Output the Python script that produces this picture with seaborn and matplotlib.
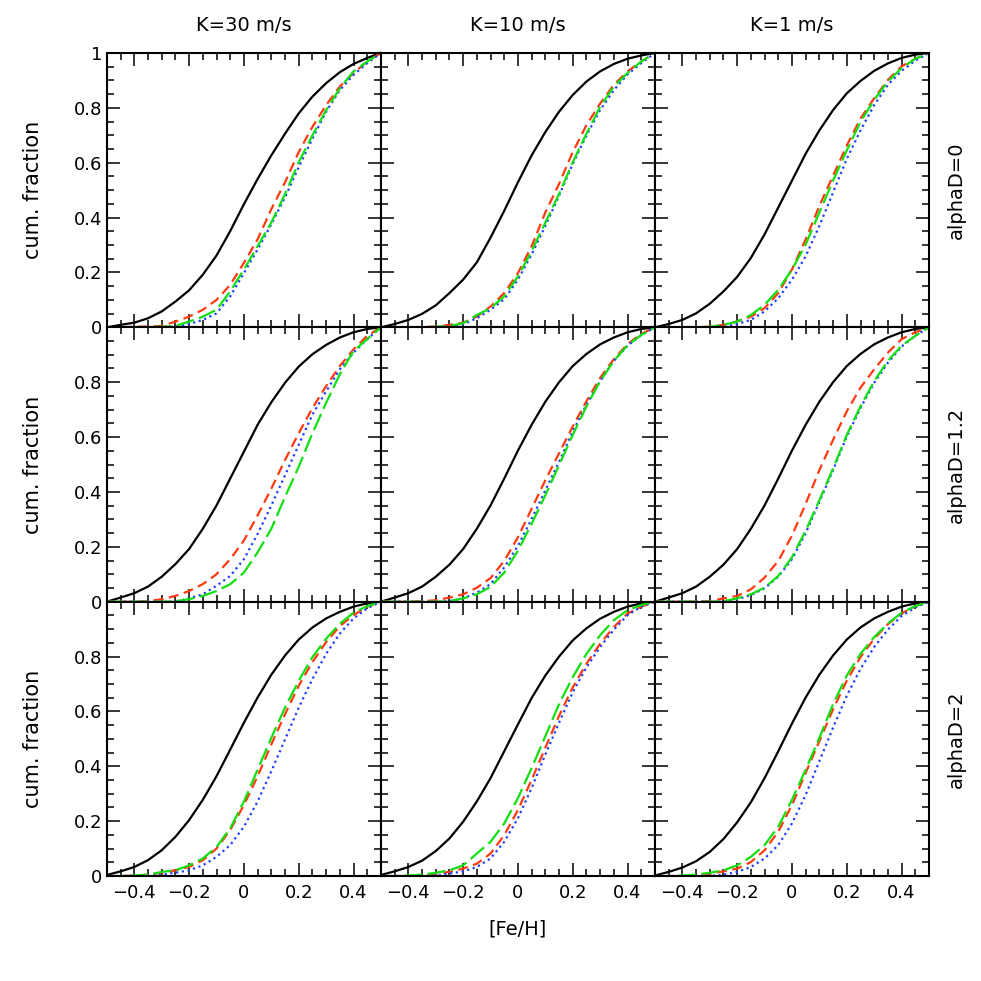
import numpy as np
import matplotlib
matplotlib.use("Agg")
import matplotlib.pyplot as plt
from matplotlib.ticker import MultipleLocator, FixedLocator
import seaborn as sns

# [Fe/H] grid the cumulative fractions were read at
feh = [-0.50, -0.45, -0.40, -0.35, -0.30, -0.25, -0.20, -0.15, -0.10, -0.05, 0.00,
       0.05, 0.10, 0.15, 0.20, 0.25, 0.30, 0.35, 0.40, 0.45, 0.50]

k_labels = ["K=30 m/s", "K=10 m/s", "K=1 m/s"]
alpha_labels = ["alphaD=0", "alphaD=1.2", "alphaD=2"]
xtick_vals = [-0.4, -0.2, 0, 0.2, 0.4]
xtick_text = ['\u22120.4', '\u22120.2', '0', '0.2', '0.4']
ytick_vals = [0, 0.2, 0.4, 0.6, 0.8, 1.0]

# ---- alphaD = 0 ----
a0_k30_black = [0, 0.009, 0.017, 0.033, 0.058, 0.094, 0.135, 0.192, 0.262, 0.351, 0.449, 0.541, 0.627, 0.706, 0.780, 0.841, 0.890, 0.930, 0.960, 0.982, 1.0]
a0_k30_red = [0, 0, 0.002, 0.003, 0.005, 0.021, 0.039, 0.064, 0.100, 0.155, 0.235, 0.321, 0.431, 0.529, 0.639, 0.731, 0.810, 0.878, 0.927, 0.969, 1.0]
a0_k30_blue = [0, 0, 0, 0, 0.001, 0.002, 0.012, 0.027, 0.051, 0.113, 0.198, 0.284, 0.376, 0.474, 0.584, 0.688, 0.786, 0.865, 0.920, 0.963, 1.0]
a0_k30_green = [0, 0, 0, 0.001, 0.002, 0.005, 0.021, 0.039, 0.064, 0.131, 0.211, 0.296, 0.382, 0.486, 0.602, 0.700, 0.792, 0.871, 0.933, 0.969, 1.0]

a0_k10_black = [0, 0.012, 0.027, 0.049, 0.080, 0.125, 0.174, 0.237, 0.327, 0.425, 0.529, 0.627, 0.712, 0.786, 0.847, 0.896, 0.933, 0.960, 0.979, 0.991, 1.0]
a0_k10_red = [0, 0, 0, 0.001, 0.003, 0.009, 0.017, 0.039, 0.076, 0.125, 0.198, 0.296, 0.419, 0.523, 0.639, 0.737, 0.816, 0.884, 0.933, 0.969, 1.0]
a0_k10_blue = [0, 0, 0, 0, 0.001, 0.002, 0.012, 0.033, 0.064, 0.103, 0.174, 0.266, 0.370, 0.480, 0.596, 0.700, 0.792, 0.865, 0.922, 0.963, 1.0]
a0_k10_green = [0, 0, 0, 0, 0.002, 0.005, 0.015, 0.045, 0.070, 0.113, 0.186, 0.278, 0.382, 0.486, 0.602, 0.706, 0.804, 0.878, 0.927, 0.969, 1.0]

a0_k1_black = [0, 0.012, 0.027, 0.051, 0.086, 0.131, 0.184, 0.253, 0.339, 0.437, 0.535, 0.633, 0.718, 0.792, 0.853, 0.898, 0.935, 0.962, 0.982, 0.994, 1.0]
a0_k1_red = [0, 0, 0, 0, 0.002, 0.009, 0.021, 0.039, 0.070, 0.125, 0.211, 0.321, 0.443, 0.553, 0.663, 0.761, 0.835, 0.902, 0.951, 0.979, 1.0]
a0_k1_blue = [0, 0, 0, 0, 0, 0.002, 0.012, 0.027, 0.058, 0.106, 0.174, 0.259, 0.370, 0.492, 0.614, 0.718, 0.810, 0.884, 0.935, 0.972, 1.0]
a0_k1_green = [0, 0, 0, 0, 0.002, 0.009, 0.021, 0.045, 0.082, 0.137, 0.211, 0.302, 0.419, 0.535, 0.645, 0.749, 0.829, 0.896, 0.945, 0.979, 1.0]

# ---- alphaD = 1.2 ----
a12_k30_black = [0, 0.015, 0.031, 0.055, 0.091, 0.137, 0.192, 0.266, 0.351, 0.449, 0.547, 0.645, 0.727, 0.798, 0.857, 0.902, 0.936, 0.963, 0.982, 0.994, 1.0]
a12_k30_red = [0, 0, 0, 0.002, 0.009, 0.021, 0.039, 0.064, 0.100, 0.155, 0.223, 0.315, 0.412, 0.517, 0.614, 0.706, 0.786, 0.859, 0.920, 0.969, 1.0]
a12_k30_blue = [0, 0, 0, 0, 0, 0, 0.012, 0.027, 0.058, 0.094, 0.155, 0.247, 0.351, 0.461, 0.572, 0.682, 0.767, 0.847, 0.908, 0.957, 1.0]
a12_k30_green = [0, 0, 0, 0, 0, 0.002, 0.009, 0.021, 0.039, 0.064, 0.106, 0.180, 0.266, 0.382, 0.492, 0.614, 0.725, 0.829, 0.914, 0.957, 1.0]

a12_k10_black = [0, 0.015, 0.031, 0.055, 0.091, 0.135, 0.192, 0.266, 0.351, 0.449, 0.551, 0.645, 0.729, 0.800, 0.859, 0.903, 0.938, 0.963, 0.982, 0.994, 1.0]
a12_k10_red = [0, 0, 0, 0.002, 0.005, 0.015, 0.027, 0.051, 0.086, 0.149, 0.235, 0.339, 0.443, 0.541, 0.639, 0.731, 0.816, 0.884, 0.939, 0.976, 1.0]
a12_k10_blue = [0, 0, 0, 0, 0, 0.002, 0.012, 0.033, 0.064, 0.125, 0.204, 0.302, 0.406, 0.510, 0.621, 0.718, 0.804, 0.878, 0.933, 0.972, 1.0]
a12_k10_green = [0, 0, 0, 0, 0, 0.002, 0.012, 0.027, 0.054, 0.106, 0.186, 0.284, 0.388, 0.498, 0.608, 0.712, 0.804, 0.878, 0.935, 0.972, 1.0]

a12_k1_black = [0, 0.015, 0.031, 0.055, 0.091, 0.135, 0.192, 0.266, 0.351, 0.449, 0.551, 0.645, 0.729, 0.800, 0.859, 0.903, 0.938, 0.963, 0.982, 0.994, 1.0]
a12_k1_red = [0, 0, 0, 0, 0.002, 0.012, 0.021, 0.045, 0.088, 0.149, 0.241, 0.357, 0.480, 0.590, 0.694, 0.780, 0.847, 0.908, 0.957, 0.982, 1.0]
a12_k1_blue = [0, 0, 0, 0, 0, 0, 0.009, 0.024, 0.049, 0.091, 0.155, 0.250, 0.364, 0.480, 0.602, 0.706, 0.798, 0.871, 0.930, 0.969, 1.0]
a12_k1_green = [0, 0, 0, 0, 0, 0.002, 0.012, 0.027, 0.051, 0.094, 0.162, 0.259, 0.370, 0.486, 0.608, 0.712, 0.804, 0.878, 0.933, 0.969, 1.0]

# ---- alphaD = 2 ----
a2_k30_black = [0.004, 0.017, 0.033, 0.058, 0.094, 0.143, 0.204, 0.278, 0.364, 0.461, 0.559, 0.651, 0.734, 0.804, 0.862, 0.906, 0.939, 0.963, 0.982, 0.994, 1.0]
a2_k30_red = [0, 0, 0.002, 0.005, 0.012, 0.021, 0.033, 0.058, 0.100, 0.168, 0.259, 0.364, 0.480, 0.590, 0.694, 0.780, 0.853, 0.911, 0.951, 0.982, 1.0]
a2_k30_blue = [0, 0, 0, 0, 0.005, 0.012, 0.021, 0.039, 0.070, 0.113, 0.180, 0.272, 0.382, 0.498, 0.614, 0.718, 0.810, 0.884, 0.939, 0.976, 1.0]
a2_k30_green = [0, 0, 0.002, 0.005, 0.015, 0.021, 0.039, 0.064, 0.106, 0.174, 0.272, 0.388, 0.504, 0.614, 0.712, 0.798, 0.865, 0.920, 0.960, 0.984, 1.0]

a2_k10_black = [0.004, 0.017, 0.033, 0.056, 0.091, 0.137, 0.198, 0.272, 0.357, 0.455, 0.553, 0.649, 0.731, 0.800, 0.859, 0.903, 0.938, 0.963, 0.982, 0.994, 1.0]
a2_k10_red = [0, 0, 0, 0.002, 0.009, 0.015, 0.027, 0.045, 0.082, 0.149, 0.241, 0.351, 0.468, 0.584, 0.688, 0.774, 0.847, 0.908, 0.957, 0.982, 1.0]
a2_k10_blue = [0, 0, 0, 0, 0.002, 0.009, 0.017, 0.033, 0.064, 0.125, 0.211, 0.321, 0.443, 0.559, 0.670, 0.761, 0.835, 0.898, 0.951, 0.982, 1.0]
a2_k10_green = [0, 0, 0.002, 0.005, 0.012, 0.021, 0.039, 0.082, 0.125, 0.192, 0.284, 0.394, 0.510, 0.627, 0.725, 0.810, 0.878, 0.933, 0.969, 0.988, 1.0]

a2_k1_black = [0.002, 0.015, 0.031, 0.054, 0.088, 0.135, 0.196, 0.269, 0.357, 0.455, 0.556, 0.651, 0.734, 0.804, 0.862, 0.906, 0.939, 0.963, 0.982, 0.994, 1.0]
a2_k1_red = [0, 0, 0, 0.002, 0.009, 0.017, 0.027, 0.051, 0.094, 0.162, 0.259, 0.376, 0.492, 0.608, 0.712, 0.798, 0.865, 0.918, 0.957, 0.984, 1.0]
a2_k1_blue = [0, 0, 0, 0, 0, 0.005, 0.015, 0.033, 0.064, 0.113, 0.192, 0.296, 0.419, 0.541, 0.657, 0.755, 0.835, 0.898, 0.948, 0.979, 1.0]
a2_k1_green = [0, 0, 0.002, 0.005, 0.012, 0.021, 0.039, 0.070, 0.113, 0.180, 0.278, 0.388, 0.504, 0.627, 0.731, 0.810, 0.871, 0.920, 0.960, 0.984, 1.0]

panels = [
    [(a0_k30_black, a0_k30_red, a0_k30_blue, a0_k30_green),
     (a0_k10_black, a0_k10_red, a0_k10_blue, a0_k10_green),
     (a0_k1_black, a0_k1_red, a0_k1_blue, a0_k1_green)],
    [(a12_k30_black, a12_k30_red, a12_k30_blue, a12_k30_green),
     (a12_k10_black, a12_k10_red, a12_k10_blue, a12_k10_green),
     (a12_k1_black, a12_k1_red, a12_k1_blue, a12_k1_green)],
    [(a2_k30_black, a2_k30_red, a2_k30_blue, a2_k30_green),
     (a2_k10_black, a2_k10_red, a2_k10_blue, a2_k10_green),
     (a2_k1_black, a2_k1_red, a2_k1_blue, a2_k1_green)],
]

sns.set_style("ticks")
plt.rcParams['font.family'] = ['DejaVu Sans']
plt.rcParams.update({'text.color': 'black', 'axes.labelcolor': 'black',
                     'xtick.color': 'black', 'ytick.color': 'black',
                     'axes.edgecolor': 'black'})

# line styles: solid black, short-dash red, dotted blue, long-dash green
styles = [
    dict(color='black', dashes=None),
    dict(color='#ff3a10', dashes=(4.5, 2.5)),
    dict(color='#2040ff', dashes=(1, 1.6)),
    dict(color='#10e010', dashes=(8, 2.5)),
]

fig, axes = plt.subplots(3, 3, figsize=(9.81, 9.81), dpi=100)
fig.subplots_adjust(left=0.109, right=0.947, top=0.946, bottom=0.107, wspace=0, hspace=0)

for r in range(3):
    for c in range(3):
        ax = axes[r, c]
        for curve, st in zip(panels[r][c], styles):
            sns.lineplot(x=feh, y=curve, ax=ax, color=st['color'], linewidth=1.6)
            ln = ax.get_lines()[-1]
            if st['dashes'] is not None:
                ln.set_dashes(st['dashes'])
        ax.set_xlim(-0.5, 0.5)
        ax.set_ylim(0, 1)
        ax.xaxis.set_major_locator(FixedLocator(xtick_vals))
        ax.xaxis.set_minor_locator(MultipleLocator(0.05))
        ax.yaxis.set_major_locator(FixedLocator(ytick_vals))
        ax.yaxis.set_minor_locator(MultipleLocator(0.05))
        ax.tick_params(which='both', direction='in', top=True, right=True, width=1.1)
        ax.tick_params(which='major', length=9.5, labelsize=13)
        ax.tick_params(which='minor', length=5)
        for sp in ax.spines.values():
            sp.set_linewidth(1.5)
            sp.set_visible(True)
        ax.set_xlabel('')
        ax.set_ylabel('')

        # labels only on outer edges
        if c == 0:
            if r == 0:
                ax.set_yticklabels(['0', '0.2', '0.4', '0.6', '0.8', '1'])
            else:
                ax.set_yticklabels(['0', '0.2', '0.4', '0.6', '0.8', ''])
            ax.set_ylabel('cum. fraction', fontsize=15)
            ax.yaxis.set_label_coords(-0.235, 0.5)
        else:
            ax.tick_params(axis='y', labelleft=False)
        if r == 2:
            ax.set_xticklabels(xtick_text)
            ax.tick_params(axis='x', pad=6)
        else:
            ax.tick_params(axis='x', labelbottom=False)
        if r == 0:
            ax.set_title(k_labels[c], fontsize=14, pad=16)
        if c == 2:
            ax.text(1.1, 0.5, alpha_labels[r], rotation=90, fontsize=14,
                    transform=ax.transAxes, ha='center', va='center')

axes[2, 1].set_xlabel('[Fe/H]', fontsize=14)
axes[2, 1].xaxis.set_label_coords(0.5, -0.16)

fig.savefig('out.png', dpi=100, facecolor='white')
